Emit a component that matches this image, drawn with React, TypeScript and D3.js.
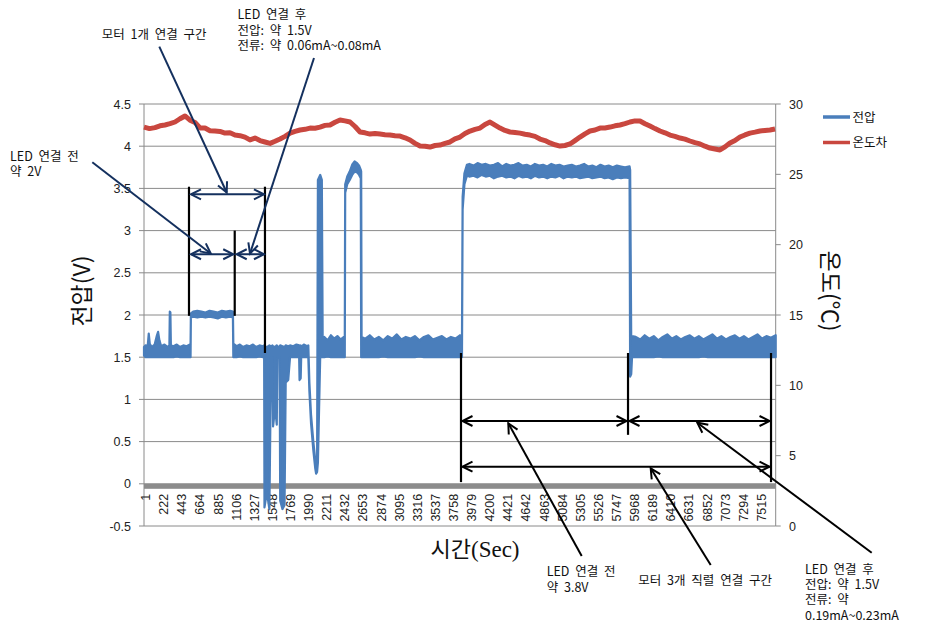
import React from 'react';
import * as d3 from 'd3';

// ---------- data ----------
const leftTicks = [-0.5, 0, 0.5, 1, 1.5, 2, 2.5, 3, 3.5, 4, 4.5];
const rightTicks = [0, 5, 10, 15, 20, 25, 30];
const categoryTicks = [1, 222, 443, 664, 885, 1106, 1327, 1548, 1769, 1990, 2211, 2432, 2653, 2874, 3095, 3316, 3537, 3758, 3979, 4200, 4421, 4642, 4863, 5084, 5305, 5526, 5747, 5968, 6189, 6410, 6631, 6852, 7073, 7294, 7515];
const seriesNames = ['전압', '온도차'];

// temperature difference (right axis)
const tempTime = [0, 67, 134, 195, 256, 317, 378, 439, 500, 561, 622, 683, 744, 805, 866, 927, 988, 1049, 1110, 1171, 1232, 1293, 1354, 1415, 1476, 1538, 1599, 1660, 1721, 1782, 1843, 1904, 1965, 2026, 2087, 2148, 2209, 2270, 2331, 2392, 2453, 2514, 2575, 2636, 2697, 2758, 2819, 2880, 2941, 3002, 3063, 3124, 3185, 3246, 3307, 3368, 3429, 3490, 3551, 3612, 3673, 3734, 3795, 3856, 3917, 3978, 4039, 4100, 4161, 4222, 4283, 4344, 4405, 4466, 4527, 4588, 4649, 4710, 4771, 4832, 4893, 4954, 5015, 5076, 5137, 5198, 5259, 5320, 5381, 5442, 5503, 5564, 5625, 5686, 5747, 5808, 5869, 5930, 5991, 6052, 6113, 6174, 6235, 6296, 6357, 6418, 6479, 6540, 6601, 6662, 6723, 6784, 6845, 6906, 6967, 7028, 7089, 7150, 7211, 7272, 7333, 7394, 7455, 7516, 7577, 7638, 7700];
const tempValue = [28.36, 28.25, 28.32, 28.45, 28.51, 28.6, 28.72, 28.95, 29.15, 28.85, 28.69, 28.3, 28.29, 28.1, 28.08, 28.05, 27.93, 27.95, 27.79, 27.75, 27.65, 27.45, 27.58, 27.4, 27.3, 27.2, 27.35, 27.51, 27.7, 27.93, 28.05, 28.15, 28.2, 28.29, 28.28, 28.36, 28.48, 28.51, 28.7, 28.86, 28.8, 28.72, 28.4, 28.01, 27.95, 27.86, 27.9, 27.86, 27.82, 27.79, 27.75, 27.72, 27.6, 27.44, 27.2, 27.01, 27.0, 26.94, 27.05, 27.08, 27.2, 27.3, 27.52, 27.65, 27.9, 28.08, 28.2, 28.29, 28.55, 28.72, 28.5, 28.29, 28.12, 28.01, 27.98, 27.93, 27.85, 27.79, 27.7, 27.51, 27.4, 27.23, 27.1, 27.01, 27.05, 27.16, 27.4, 27.65, 27.88, 28.08, 28.15, 28.29, 28.3, 28.36, 28.45, 28.51, 28.6, 28.72, 28.8, 28.79, 28.6, 28.43, 28.25, 28.08, 27.95, 27.79, 27.7, 27.58, 27.5, 27.37, 27.25, 27.16, 27.0, 26.87, 26.8, 26.73, 26.95, 27.23, 27.4, 27.65, 27.8, 27.93, 28.0, 28.08, 28.12, 28.15, 28.22];

// voltage: [time, low edge, high edge] of the noisy band (left axis)
const voltageBand: [number, number, number][] = [
  [0, 1.52, 1.62], [20, 1.5, 1.64], [45, 1.5, 1.63], [58, 1.5, 1.78], [70, 1.5, 1.66], [95, 1.5, 1.62], [130, 1.5, 1.65], [158, 1.5, 1.76], [172, 1.5, 1.8], [188, 1.5, 1.7], [210, 1.5, 1.63], [250, 1.5, 1.65], [290, 1.5, 1.62], [310, 1.5, 1.64], [315, 1.5, 2.04], [322, 1.5, 2.03], [328, 1.5, 1.64], [360, 1.5, 1.63], [400, 1.51, 1.65], [440, 1.5, 1.62], [480, 1.5, 1.64], [520, 1.5, 1.63], [560, 1.5, 1.65], [568, 1.5, 1.64],
  [572, 1.97, 2.02], [600, 1.98, 2.04], [650, 1.97, 2.05], [700, 1.98, 2.04], [750, 1.97, 2.03], [800, 1.98, 2.05], [850, 1.97, 2.04], [900, 1.96, 2.03], [950, 1.98, 2.05], [1000, 1.97, 2.04], [1050, 1.98, 2.05], [1085, 1.97, 2.04],
  [1090, 1.5, 1.66], [1130, 1.5, 1.63], [1170, 1.51, 1.65], [1210, 1.5, 1.62], [1250, 1.5, 1.64], [1290, 1.5, 1.63], [1330, 1.5, 1.65], [1370, 1.5, 1.62], [1410, 1.51, 1.64], [1450, 1.5, 1.63], [1466, 1.5, 1.64],
  [1470, -0.28, 1.63], [1500, -0.1, 1.62], [1530, -0.3, 1.64], [1546, 1.1, 1.63], [1550, 1.5, 1.62], [1566, 1.5, 1.64], [1575, 0.68, 1.63], [1600, 0.9, 1.62], [1620, 0.7, 1.64], [1628, 1.5, 1.63], [1655, 1.5, 1.62], [1662, -0.2, 1.64], [1690, -0.3, 1.63], [1715, -0.25, 1.62], [1729, 1.2, 1.64], [1760, 1.23, 1.63], [1782, 1.5, 1.64],
  [1820, 1.5, 1.63], [1860, 1.5, 1.65], [1893, 1.5, 1.64], [1898, 1.23, 1.63], [1912, 1.25, 1.64], [1918, 1.5, 1.62], [1950, 1.5, 1.65], [1990, 1.5, 1.63], [2005, 1.5, 1.64],
  [2018, 1.1, 1.2], [2038, 0.72, 0.82], [2066, 0.4, 0.5], [2090, 0.18, 0.28], [2100, 0.12, 0.2], [2112, 0.14, 0.22], [2122, 0.25, 3.6], [2150, 1.5, 3.66], [2170, 1.5, 3.6], [2180, 1.5, 1.72],
  [2200, 1.5, 1.74], [2240, 1.51, 1.7], [2280, 1.5, 1.76], [2320, 1.5, 1.72], [2360, 1.5, 1.75], [2400, 1.5, 1.71], [2440, 1.5, 1.74], [2450, 1.5, 1.73],
  [2455, 3.45, 3.55], [2480, 3.55, 3.64], [2510, 3.6, 3.7], [2540, 3.66, 3.78], [2570, 3.7, 3.82], [2600, 3.69, 3.8], [2625, 3.66, 3.77], [2645, 3.62, 3.72], [2650, 1.5, 3.7], [2655, 1.5, 1.74],
  [2700, 1.5, 1.72], [2755, 1.5, 1.76], [2810, 1.5, 1.71], [2865, 1.5, 1.74], [2920, 1.51, 1.7], [2975, 1.5, 1.75], [3030, 1.5, 1.72], [3085, 1.5, 1.77], [3140, 1.5, 1.71], [3195, 1.5, 1.74], [3250, 1.5, 1.72], [3305, 1.5, 1.75], [3360, 1.51, 1.7], [3415, 1.5, 1.74], [3470, 1.5, 1.76], [3525, 1.5, 1.71], [3580, 1.5, 1.73], [3635, 1.5, 1.75], [3690, 1.5, 1.71], [3745, 1.5, 1.74], [3800, 1.5, 1.72], [3855, 1.5, 1.76], [3880, 1.5, 1.73],
  [3888, 3.25, 3.4], [3910, 3.55, 3.68], [3940, 3.65, 3.78],
  [3970, 3.64, 3.79], [4020, 3.65, 3.77], [4070, 3.63, 3.8], [4120, 3.66, 3.78], [4170, 3.64, 3.79], [4220, 3.65, 3.77], [4270, 3.62, 3.78], [4320, 3.64, 3.8], [4370, 3.65, 3.76], [4420, 3.63, 3.79], [4470, 3.64, 3.77], [4520, 3.62, 3.78], [4570, 3.65, 3.8], [4620, 3.63, 3.77], [4670, 3.64, 3.78], [4720, 3.62, 3.76], [4770, 3.65, 3.79], [4820, 3.63, 3.77], [4870, 3.64, 3.78], [4920, 3.62, 3.76], [4970, 3.64, 3.79], [5020, 3.63, 3.77], [5070, 3.65, 3.78], [5120, 3.62, 3.76], [5170, 3.64, 3.77], [5220, 3.63, 3.78], [5270, 3.64, 3.76], [5320, 3.62, 3.77], [5370, 3.63, 3.79], [5420, 3.64, 3.76], [5470, 3.62, 3.77], [5520, 3.63, 3.75], [5570, 3.64, 3.78], [5620, 3.62, 3.76], [5670, 3.63, 3.77], [5720, 3.61, 3.75], [5770, 3.63, 3.77], [5820, 3.62, 3.76], [5870, 3.63, 3.75], [5925, 3.62, 3.76],
  [5932, 1.27, 3.72], [5945, 1.3, 1.72], [5955, 1.5, 1.75],
  [6000, 1.5, 1.74], [6055, 1.5, 1.71], [6110, 1.5, 1.76], [6165, 1.5, 1.72], [6220, 1.5, 1.75], [6275, 1.51, 1.7], [6330, 1.5, 1.74], [6385, 1.5, 1.77], [6440, 1.5, 1.72], [6495, 1.5, 1.75], [6550, 1.5, 1.71], [6605, 1.5, 1.74], [6660, 1.5, 1.76], [6715, 1.5, 1.72], [6770, 1.5, 1.75], [6825, 1.51, 1.71], [6880, 1.5, 1.74], [6935, 1.5, 1.77], [6990, 1.5, 1.72], [7045, 1.5, 1.75], [7100, 1.5, 1.71], [7155, 1.5, 1.74], [7210, 1.5, 1.76], [7265, 1.5, 1.72], [7320, 1.5, 1.75], [7375, 1.5, 1.71], [7430, 1.5, 1.74], [7485, 1.5, 1.77], [7540, 1.5, 1.72], [7595, 1.5, 1.75], [7650, 1.5, 1.73], [7708, 1.5, 1.76],
];

// annotation brackets in data units (time, voltage)
const leftBracketTimes = [549, 1107, 1476];
const rightBracketTimes = [3868, 5906, 7651];

// ---------- layout / style ----------
const W = 949;
const H = 631;
const PL = 144, PR = 775.7, PT = 104, PB = 526;
const BLUE = '#4A7EBB';
const RED = '#C9473F';
const GRID = '#8A8A8A';
const NAVY = '#14305E';
const KR = "'Noto Sans CJK KR', 'Noto Sans', sans-serif";
const NUM = "'Liberation Sans', Arial, sans-serif";

function chevron(tx: number, ty: number, fx: number, fy: number, len = 10, half = 5) {
  const dx = fx - tx, dy = fy - ty;
  const n = Math.hypot(dx, dy) || 1;
  const ux = dx / n, uy = dy / n;
  const px = -uy, py = ux;
  const ax = tx + ux * len + px * half, ay = ty + uy * len + py * half;
  const bx = tx + ux * len - px * half, by = ty + uy * len - py * half;
  return `M${ax},${ay}L${tx},${ty}L${bx},${by}`;
}

function DoubleArrow({ x1, x2, y, color }: { x1: number; x2: number; y: number; color: string }) {
  return (
    <g stroke={color} strokeWidth={2} fill="none">
      <line x1={x1} y1={y} x2={x2} y2={y} />
      <path d={chevron(x1, y, x2, y)} />
      <path d={chevron(x2, y, x1, y)} />
    </g>
  );
}

function Pointer({ from, to, color }: { from: [number, number]; to: [number, number]; color: string }) {
  return (
    <g stroke={color} strokeWidth={2} fill="none">
      <line x1={from[0]} y1={from[1]} x2={to[0]} y2={to[1]} />
      <path d={chevron(to[0], to[1], from[0], from[1])} />
    </g>
  );
}

export default function App() {
  const x = d3.scaleLinear().domain([0, 7708]).range([PL, PR]);
  const yL = d3.scaleLinear().domain([-0.5, 4.5]).range([PB, PT]);
  const yR = d3.scaleLinear().domain([0, 30]).range([PB, PT]);

  const area = d3.area<[number, number, number]>()
    .x((d) => x(d[0]))
    .y0((d) => yL(d[1]))
    .y1((d) => yL(d[2]));

  const tempLine = d3.line<number>()
    .x((_, i) => x(tempTime[i]))
    .y((d) => yR(d));

  const [lb0, lb1, lb2] = leftBracketTimes.map((t) => x(t));
  const [rb0, rb1, rb2] = rightBracketTimes.map((t) => x(t));

  const textStyle = { fontFamily: KR, fontSize: 12.5, wordSpacing: 3 } as React.CSSProperties;

  return (
    <svg width={W} height={H} style={{ position: 'absolute', left: 0, top: 0, background: '#fff' }}>
      <rect x={0} y={0} width={W} height={H} fill="#fff" />
      {/* gridlines */}
      {leftTicks.map((v) => (
        <line key={'g' + v} x1={PL} x2={PR} y1={yL(v)} y2={yL(v)} stroke={GRID} strokeWidth={1} />
      ))}
      {/* axes */}
      <line x1={PL} x2={PL} y1={PT} y2={PB} stroke={GRID} />
      <line x1={PR} x2={PR} y1={PT} y2={PB} stroke={GRID} />
      {leftTicks.map((v) => (
        <g key={'lt' + v}>
          <line x1={PL - 5} x2={PL} y1={yL(v)} y2={yL(v)} stroke={GRID} />
          <text x={131} y={yL(v) + 4.5} textAnchor="end" fontFamily={NUM} fontSize={12.5} fill="#222">{v}</text>
        </g>
      ))}
      {rightTicks.map((v) => (
        <g key={'rt' + v}>
          <line x1={PR} x2={PR + 5} y1={yR(v)} y2={yR(v)} stroke={GRID} />
          <text x={789} y={yR(v) + 4.5} textAnchor="start" fontFamily={NUM} fontSize={12.5} fill="#222">{v}</text>
        </g>
      ))}
      {/* category axis at 0 */}
      <rect x={PL} y={yL(0)} width={PR - PL} height={5} fill="#8C8C8C" />
      {categoryTicks.map((t) => (
        <text key={'c' + t} transform={`translate(${x(t) + 2},${yL(0) + 10}) rotate(-90)`} textAnchor="end" dominantBaseline="central" fontFamily={NUM} fontSize={12.5} fill="#222">{t}</text>
      ))}

      {/* series */}
      <path d={area(voltageBand) || ''} fill={BLUE} stroke={BLUE} strokeWidth={2.2} strokeLinejoin="round" />
      <path d={tempLine(tempValue) || ''} fill="none" stroke={RED} strokeWidth={5} strokeLinejoin="round" />

      {/* left annotations */}
      <g stroke="#000" strokeWidth={2.2}>
        <line x1={lb0} x2={lb0} y1={yL(3.52)} y2={yL(1.99)} />
        <line x1={lb1} x2={lb1} y1={yL(3.0)} y2={yL(1.99)} />
        <line x1={lb2} x2={lb2} y1={yL(3.52)} y2={yL(1.55)} />
      </g>
      <DoubleArrow x1={lb0 + 2} x2={lb2 - 1} y={yL(3.43)} color={NAVY} />
      <DoubleArrow x1={lb0 + 2} x2={lb1 - 1.5} y={yL(2.72)} color={NAVY} />
      <DoubleArrow x1={lb1 + 2} x2={lb2 - 1} y={yL(2.72)} color={NAVY} />
      <Pointer from={[159.3, 46.7]} to={[226.7, 192.5]} color={NAVY} />
      <Pointer from={[314, 58]} to={[250, 253.5]} color={NAVY} />
      <Pointer from={[92.3, 162.3]} to={[210.7, 253.5]} color={NAVY} />

      {/* right annotations */}
      <g stroke="#000" strokeWidth={2.2}>
        <line x1={rb0} x2={rb0} y1={yL(1.55)} y2={yL(0.02)} />
        <line x1={rb1} x2={rb1} y1={yL(1.55)} y2={yL(0.58)} />
        <line x1={rb2} x2={rb2} y1={yL(1.55)} y2={yL(0.02)} />
      </g>
      <DoubleArrow x1={rb0 + 1.5} x2={rb1 - 1.5} y={yL(0.744)} color="#000" />
      <DoubleArrow x1={rb1 + 1.5} x2={rb2 - 1.5} y={yL(0.744)} color="#000" />
      <DoubleArrow x1={rb0 + 1.5} x2={rb2 - 1.5} y={yL(0.203)} color="#000" />
      <Pointer from={[581.7, 556]} to={[508.3, 423.3]} color="#000" />
      <Pointer from={[710.7, 565]} to={[650.7, 468.3]} color="#000" />
      <Pointer from={[871.7, 552.7]} to={[697.3, 422.7]} color="#000" />

      {/* annotation texts */}
      <g style={textStyle} fill="#111">
        <text x={101.7} y={38.5}>모터 1개 연결 구간</text>
        <text x={237.5} y={19}>LED 연결 후</text>
        <text x={237.5} y={34.5}>전압: 약 1.5V</text>
        <text x={237.5} y={50}>전류: 약 0.06mA~0.08mA</text>
        <text x={10} y={161}>LED 연결 전</text>
        <text x={10} y={176}>약 2V</text>
        <text x={546.7} y={576}>LED 연결 전</text>
        <text x={546.7} y={591.5}>약 3.8V</text>
        <text x={638.3} y={584.5}>모터 3개 직렬 연결 구간</text>
        <text x={805} y={573.5}>LED 연결 후</text>
        <text x={805} y={588.5}>전압: 약 1.5V</text>
        <text x={805} y={604}>전류: 약</text>
        <text x={805} y={619.5}>0.19mA~0.23mA</text>
      </g>

      {/* axis titles */}
      <text transform="translate(80,291) rotate(-90)" textAnchor="middle" dominantBaseline="central" fontFamily={KR} fontSize={23} fill="#111">전압(V)</text>
      <text transform="translate(832,291) rotate(90)" textAnchor="middle" dominantBaseline="central" fontFamily={KR} fontSize={23} fill="#111">온도(℃)</text>
      <text x={475} y={557} textAnchor="middle" fill="#111">
        <tspan fontFamily={KR} fontSize={22}>시간</tspan>
        <tspan fontFamily="'Liberation Serif', serif" fontSize={23}>(Sec)</tspan>
      </text>

      {/* legend */}
      {seriesNames.map((name, i) => (
        <g key={name}>
          <line x1={823} x2={850} y1={117 + i * 25.5} y2={117 + i * 25.5} stroke={i === 0 ? BLUE : RED} strokeWidth={3.5} />
          <text x={852.5} y={117 + i * 25.5 + 4.5} fontFamily={KR} fontSize={12.5} fill="#111">{name}</text>
        </g>
      ))}
    </svg>
  );
}
